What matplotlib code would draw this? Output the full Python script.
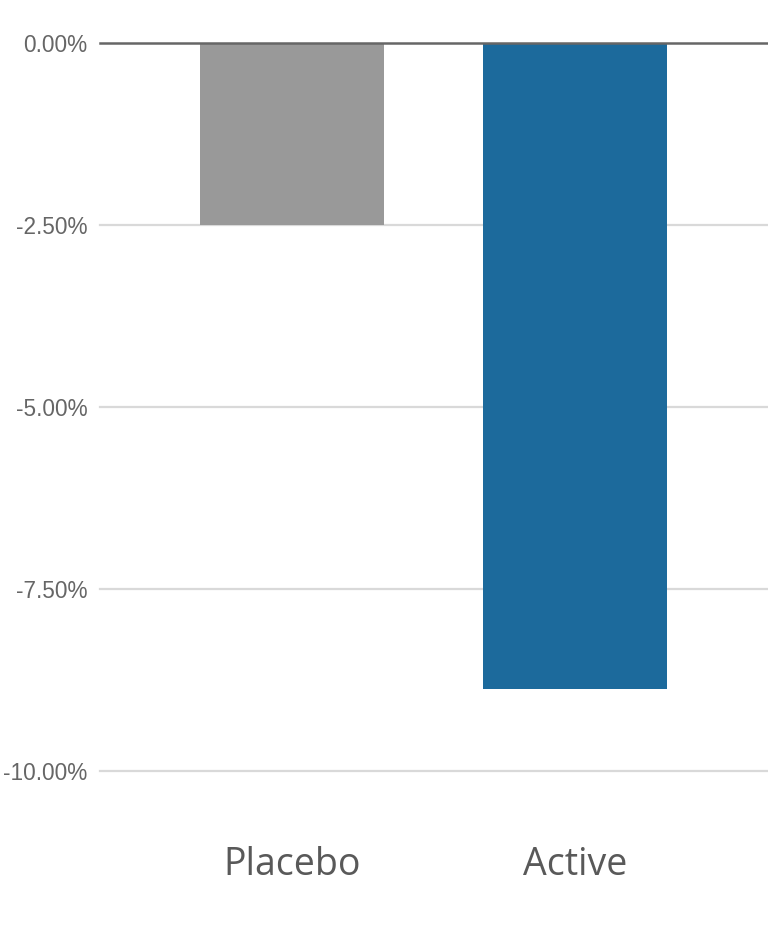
import matplotlib.pyplot as plt

groups = ["Placebo", "Active"]
change = [-2.50, -8.87]
bar_colors = ["#999999", "#1c6a9c"]
y_ticks = [0.0, -2.5, -5.0, -7.5, -10.0]
y_tick_labels = ["0.00%", "-2.50%", "-5.00%", "-7.50%", "-10.00%"]

fig = plt.figure(figsize=(7.68, 9.35), dpi=100)
ax = fig.add_axes([100 / 768, 164 / 935, 668 / 768, 728 / 935])

x = range(len(groups))
ax.bar(x, change, width=0.65, color=bar_colors, zorder=2)

ax.set_xlim(-0.678, 1.682)
ax.set_ylim(-10.0, 0.0)

ax.set_yticks(y_ticks)
ax.set_yticklabels(y_tick_labels, fontfamily="Liberation Sans", fontsize=16.3, color="#666666")
for y in y_ticks[1:]:
    ax.axhline(y, color="#d9d9d9", linewidth=1.6, zorder=1, clip_on=False)
ax.axhline(0, color="#666666", linewidth=1.8, zorder=3, clip_on=False)

ax.set_xticks(list(x))
ax.set_xticklabels(groups, fontfamily="Open Sans", fontsize=27, color="#595959")
ax.tick_params(axis="y", length=0, pad=9)
ax.tick_params(axis="x", length=0, pad=54)

for side in ["top", "bottom", "left", "right"]:
    ax.spines[side].set_visible(False)

fig.savefig("out.png", dpi=100)
